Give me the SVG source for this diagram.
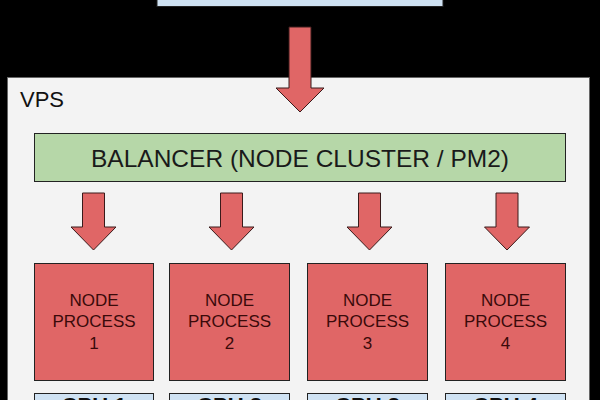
<svg xmlns="http://www.w3.org/2000/svg" width="600" height="400" viewBox="0 0 600 400">
<defs>
<style>
.lbl{font-family:"Liberation Sans",Arial,sans-serif;text-anchor:middle}
.blue{fill:#cfe2f3;stroke:#222;stroke-width:1}
.red{fill:#e06666;stroke:#222;stroke-width:1}
.arrow{fill:#e06666;stroke:#3a1a1a;stroke-width:1;stroke-linejoin:miter}
.ntext{font-size:17px;fill:#3a0a0a}
</style>
<path id="sarrow" d="M-11,0 H11 V34 H22.5 L0,57 L-22.5,34 H-11 Z"/>
</defs>
<rect width="600" height="400" fill="#000"/>
<g id="top">
<rect class="blue" x="157" y="-10" width="286" height="16.5"/>
</g>
<g id="vps">
<rect x="7.5" y="77.5" width="582" height="340" fill="#f3f3f3" stroke="#666" stroke-width="1"/>
<text class="lbl" x="20" y="107" style="text-anchor:start;font-size:22px;fill:#111">VPS</text>
</g>
<g id="balancer">
<rect x="34.5" y="133.5" width="531" height="48" fill="#b6d7a8" stroke="#222" stroke-width="1"/>
<text class="lbl" x="300" y="166.5" style="font-size:24.5px;fill:#1a1a1a">BALANCER (NODE CLUSTER / PM2)</text>
</g>
<g id="connectors">
<path class="arrow" d="M289,27 H311 V88 H324 L300,112 L276,88 H289 Z"/>
<use href="#sarrow" class="arrow" x="93.5" y="193"/>
<use href="#sarrow" class="arrow" x="231.5" y="193"/>
<use href="#sarrow" class="arrow" x="369.5" y="193"/>
<use href="#sarrow" class="arrow" x="507" y="193"/>
</g>
<g id="node1">
<rect class="red" x="34.5" y="263.5" width="119" height="117"/>
<text class="lbl ntext" x="94" y="306">NODE</text>
<text class="lbl ntext" x="94" y="327">PROCESS</text>
<text class="lbl ntext" x="94" y="349">1</text>
</g>
<g id="node2">
<rect class="red" x="169.5" y="263.5" width="120" height="117"/>
<text class="lbl ntext" x="229.5" y="306">NODE</text>
<text class="lbl ntext" x="229.5" y="327">PROCESS</text>
<text class="lbl ntext" x="229.5" y="349">2</text>
</g>
<g id="node3">
<rect class="red" x="307.5" y="263.5" width="120" height="117"/>
<text class="lbl ntext" x="367.5" y="306">NODE</text>
<text class="lbl ntext" x="367.5" y="327">PROCESS</text>
<text class="lbl ntext" x="367.5" y="349">3</text>
</g>
<g id="node4">
<rect class="red" x="445.5" y="263.5" width="120" height="117"/>
<text class="lbl ntext" x="505.5" y="306">NODE</text>
<text class="lbl ntext" x="505.5" y="327">PROCESS</text>
<text class="lbl ntext" x="505.5" y="349">4</text>
</g>
<g id="cpu1">
<rect class="blue" x="34.5" y="393.5" width="119" height="30"/>
<text class="lbl" x="94" y="413" style="font-size:22px;font-weight:bold;fill:#111">CPU 1</text>
</g>
<g id="cpu2">
<rect class="blue" x="169.5" y="393.5" width="120" height="30"/>
<text class="lbl" x="229.5" y="413" style="font-size:22px;font-weight:bold;fill:#111">CPU 2</text>
</g>
<g id="cpu3">
<rect class="blue" x="307.5" y="393.5" width="120" height="30"/>
<text class="lbl" x="367.5" y="413" style="font-size:22px;font-weight:bold;fill:#111">CPU 3</text>
</g>
<g id="cpu4">
<rect class="blue" x="445.5" y="393.5" width="120" height="30"/>
<text class="lbl" x="505.5" y="413" style="font-size:22px;font-weight:bold;fill:#111">CPU 4</text>
</g>
</svg>
